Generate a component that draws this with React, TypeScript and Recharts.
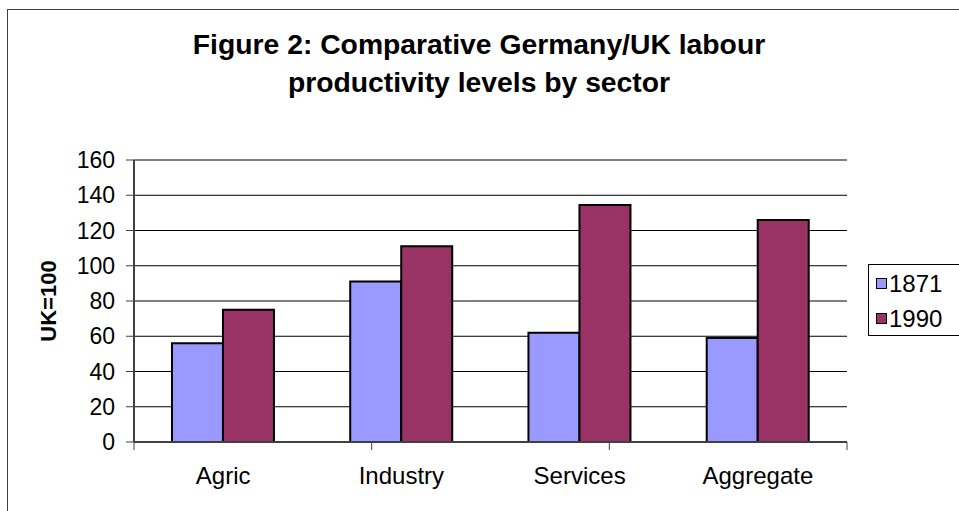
import { Bar, BarChart, CartesianGrid, Legend, ReferenceLine, XAxis, YAxis } from "recharts";

const categories = ["Agric", "Industry", "Services", "Aggregate"];
const values1871 = [56, 91, 62, 59];
const values1990 = [75, 111, 134.5, 126];
const seriesNames = ["1871", "1990"];
const seriesColors = ["#9999FF", "#993366"];
const yTicks = [0, 20, 40, 60, 80, 100, 120, 140, 160];
const titleLines = ["Figure 2: Comparative Germany/UK labour", "productivity levels by sector"];
const yLabel = "UK=100";

const daten = categories.map((label, i) => ({ label, s1871: values1871[i], s1990: values1990[i] }));
const edgeTicks = [...categories.map((_, i) => i), categories.length];

const font = '"Liberation Sans", Arial, sans-serif';

function LegendBox() {
  return (
    <div style={{ border: "1px solid #000", width: 100, height: 72, boxSizing: "border-box", background: "#fff", paddingTop: 1 }}>
      {seriesNames.map((name, i) => (
        <div key={name} style={{ display: "flex", alignItems: "center", height: 35, paddingLeft: 7, fontFamily: font, fontSize: 24, color: "#000" }}>
          <span style={{ width: 9, height: 9, border: "1px solid #000", background: seriesColors[i], marginRight: 2, display: "inline-block" }} />
          {name}
        </div>
      ))}
    </div>
  );
}

export default function App() {
  return (
    <div style={{ position: "absolute", left: 0, top: 0, width: 959, height: 511, overflow: "hidden", background: "#fff", fontFamily: font }}>
      <div style={{ position: "absolute", left: 7, top: 9, width: 1000, height: 600, border: "1px solid #404040" }} />
      <svg width={959} height={120} style={{ position: "absolute", left: 0, top: 0 }}>
        {titleLines.map((line, i) => (
          <text key={line} x={479} y={54 + i * 38} textAnchor="middle" fontFamily={font} fontWeight="bold" fontSize={28.3} fill="#000">
            {line}
          </text>
        ))}
      </svg>
      <div style={{ position: "absolute", left: 0, top: 0 }}>
        <BarChart width={959} height={511} data={daten} margin={{ top: 160, right: 112, bottom: 11, left: 44 }} barCategoryGap="21.3%" barGap={0}>
          <CartesianGrid vertical={false} stroke="#000" xAxisId="bCat" />
          <XAxis
            xAxisId="bCat"
            dataKey="label"
            height={50}
            axisLine={false}
            tickLine={false}
            tickSize={0}
            tickMargin={17}
            tick={{ fontSize: 24, fill: "#000", fontFamily: font }}
          />
          <XAxis
            xAxisId="aEdge"
            type="number"
            domain={[0, categories.length]}
            ticks={edgeTicks}
            tickFormatter={() => ""}
            height={8}
            tickSize={8}
            axisLine={{ stroke: "#404040", strokeWidth: 2 }}
            tickLine={{ stroke: "#404040" }}
          />
          <YAxis
            domain={[0, 160]}
            ticks={yTicks}
            width={90}
            tickSize={8}
            tickMargin={11}
            tick={{ fontSize: 23, fill: "#000", fontFamily: font }}
            axisLine={{ stroke: "#404040", strokeWidth: 2 }}
            tickLine={{ stroke: "#404040" }}
            label={{ value: yLabel, angle: -90, position: "insideLeft", offset: 4, fontSize: 22, fontWeight: "bold", fill: "#000", style: { textAnchor: "middle" } }}
          />
          <YAxis yAxisId="r" orientation="right" domain={[0, 160]} width={0} tick={false} tickLine={false} axisLine={{ stroke: "#808080", strokeWidth: 2 }} />
          <ReferenceLine y={160} xAxisId="bCat" stroke="#808080" strokeWidth={2} />
          <Legend layout="horizontal" align="center" verticalAlign="middle" wrapperStyle={{ left: 868, top: 264, width: 100 }} content={() => <LegendBox />} />
          <Bar xAxisId="bCat" dataKey="s1871" name={seriesNames[0]} fill={seriesColors[0]} stroke="#000" strokeWidth={2} isAnimationActive={false} />
          <Bar xAxisId="bCat" dataKey="s1990" name={seriesNames[1]} fill={seriesColors[1]} stroke="#000" strokeWidth={2} isAnimationActive={false} />
        </BarChart>
      </div>
    </div>
  );
}
